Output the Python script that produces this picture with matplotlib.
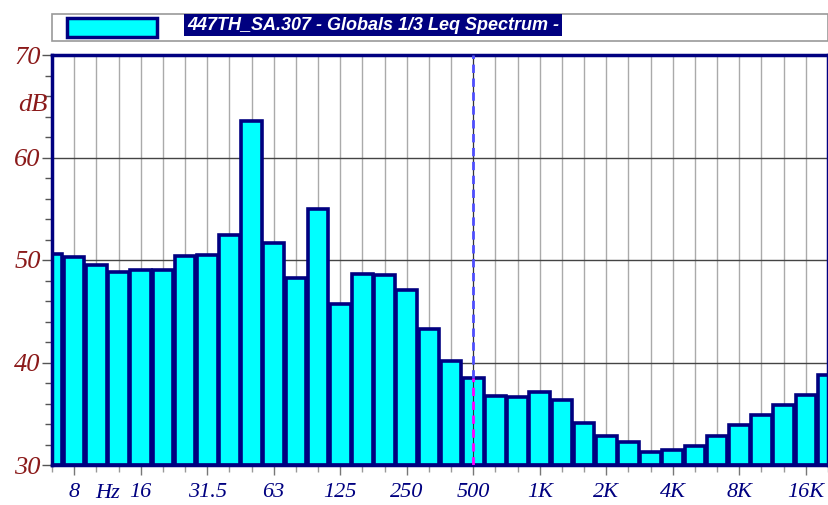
import numpy as np
import matplotlib.pyplot as plt
from matplotlib.patches import Rectangle

# 1/3 octave band centres and Leq levels (dB)
bands = ["6.3", "8", "10", "12.5", "16", "20", "25", "31.5", "40", "50",
         "63", "80", "100", "125", "160", "200", "250", "315", "400", "500",
         "630", "800", "1K", "1.25K", "1.6K", "2K", "2.5K", "3.15K", "4K", "5K",
         "6.3K", "8K", "10K", "12.5K", "16K", "20K"]
levels = [50.6, 50.3, 49.5, 48.8, 49.0, 49.05, 50.4, 50.5, 52.4, 63.6,
          51.7, 48.2, 55.0, 45.7, 48.6, 48.5, 47.1, 43.3, 40.1, 38.5,
          36.7, 36.6, 37.1, 36.3, 34.1, 32.8, 32.2, 31.3, 31.5, 31.9,
          32.8, 33.9, 34.9, 35.9, 36.8, 38.8]
tick_bands = ["8", "16", "31.5", "63", "125", "250", "500", "1K", "2K", "4K", "8K", "16K"]
cursor_band = "500"
title = "447TH_SA.307 - Globals 1/3 Leq Spectrum -"

navy = "#000080"
red = "#8B1A1A"
x = np.arange(len(bands))
y0 = 30

fig = plt.figure(figsize=(8.29, 5.05), dpi=100)
ax = fig.add_axes([52 / 829, 1 - 465 / 505, 776 / 829, 410 / 505])

# grid
for xi in x:
    ax.axvline(xi, color="#aaaaaa", lw=1, zorder=0)
for yv in (40, 50, 60):
    ax.axhline(yv, color="#444444", lw=1, zorder=0)

ax.bar(x, np.array(levels) - y0, bottom=y0, width=0.93, color="#00FFFF",
       edgecolor=navy, linewidth=2.6, zorder=2)

# cursor line at 500 Hz
ci = bands.index(cursor_band)
ctop = levels[ci]
ax.plot([ci, ci], [y0, 70], color="#333333", lw=0.8, zorder=3)
ax.plot([ci, ci], [ctop, 70], color="#4f4fff", lw=2, ls=(0, (3, 2)), zorder=4)
ax.plot([ci, ci], [y0, ctop], color="#ff00ff", lw=2, ls=(0, (3, 2)), zorder=4)

ax.set_xlim(0, len(bands) - 1)
ax.set_ylim(30, 70)

for s in ax.spines.values():
    s.set_color(navy)
    s.set_linewidth(2.5)

ax.set_yticks([30, 40, 50, 60, 70])
ax.set_yticklabels(["30", "40", "50", "60", "70"], color=red,
                   family="Liberation Serif", style="italic", fontsize=19)
ax.set_yticks(np.arange(30, 71, 2), minor=True)
ax.tick_params(axis="y", which="major", length=7, width=1, color="#555555", pad=1)
ax.tick_params(axis="y", which="minor", length=5, width=1, color="#555555")

ax.set_xticks([bands.index(b) for b in tick_bands])
ax.set_xticklabels(tick_bands, color=navy, family="Liberation Serif",
                   style="italic", fontsize=16)
ax.set_xticks(x, minor=True)
ax.tick_params(axis="x", which="major", length=7, width=1, color="#777777", pad=6)
ax.tick_params(axis="x", which="minor", length=5, width=1, color="#999999")

ax.text(2.5, -0.046, "Hz", transform=ax.get_xaxis_transform(), ha="center",
        va="top", color=navy, family="Liberation Serif", style="italic", fontsize=16)
fig.text(33 / 829, 1 - 105 / 505, "dB", ha="center", va="center", color=red,
         family="Liberation Serif", style="italic", fontsize=19)

# legend strip
fig.patches.append(Rectangle((52 / 829, 1 - 41 / 505), 776 / 829, 27 / 505,
                             transform=fig.transFigure, facecolor="white",
                             edgecolor="#999999", lw=1.2))
fig.patches.append(Rectangle((67 / 829, 1 - 37 / 505), 90 / 829, 19 / 505,
                             transform=fig.transFigure, facecolor="#00FFFF",
                             edgecolor=navy, lw=2.5))
fig.text(187 / 829, 1 - 25 / 505, title, ha="left", va="center", color="white",
         family="Liberation Sans", weight="bold", style="italic", fontsize=13,
         bbox=dict(boxstyle="square,pad=0.15", facecolor=navy, edgecolor="none"))

fig.savefig("out.png", dpi=100)
